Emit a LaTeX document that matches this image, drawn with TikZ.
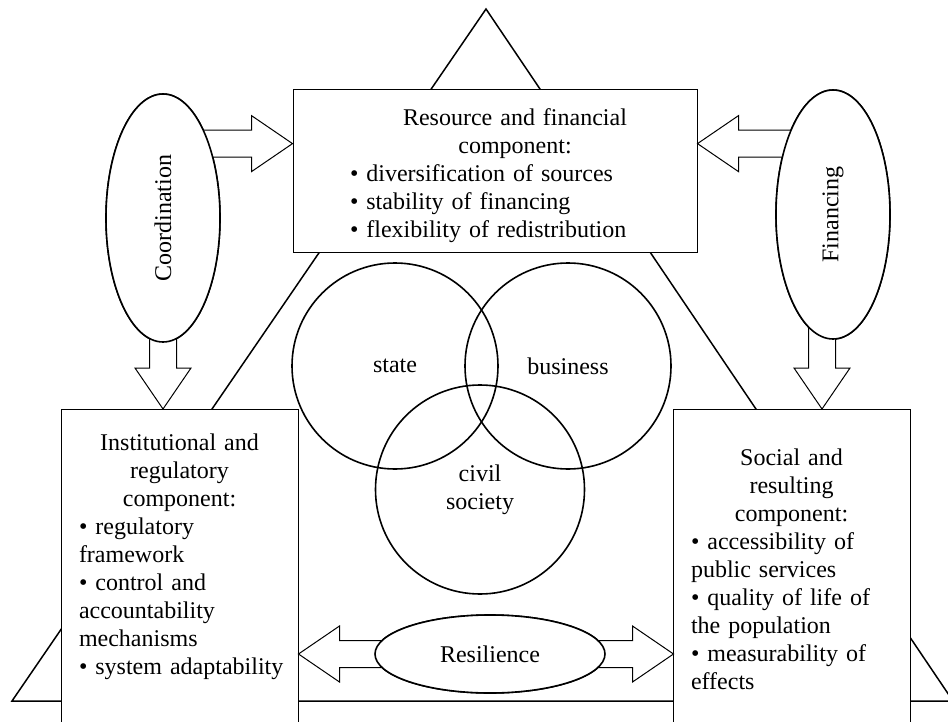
\documentclass[tikz,border=0pt]{standalone}
\usepackage{fontspec}
\setmainfont{Liberation Serif}
\usetikzlibrary{positioning,calc,shapes.geometric}
\setlength{\parindent}{0pt}
\hyphenpenalty=10000
\exhyphenpenalty=10000

% broad outlined arrow from #1 to tip #2
\newcommand{\widearrow}[2]{%
  \coordinate (wa-t) at (#2);
  \coordinate (wa-h) at ($(#2)!41pt!(#1)$);
  \draw[wide arrow] ($(#1)!13.5pt!90:(#2)$) -- ($(wa-h)!13.5pt!90:(wa-t)$)
    -- ($(wa-h)!28pt!90:(wa-t)$) -- (wa-t) -- ($(wa-h)!28pt!-90:(wa-t)$)
    -- ($(wa-h)!13.5pt!-90:(wa-t)$) -- ($(#1)!13.5pt!-90:(#2)$) -- cycle;
}

\begin{document}
\begin{tikzpicture}[x=1pt,y=-1pt,
  font=\fontsize{24}{28}\selectfont,
  box node/.style={rectangle,draw,line width=1pt,fill=white,inner sep=0pt},
  text node/.style={inner sep=0pt,align=left},
  oval node/.style={ellipse,draw,line width=1.6pt,fill=white,inner sep=0pt},
  set node/.style={circle,draw,line width=1.6pt,inner sep=0pt,minimum size=206pt,align=center},
  tri/.style={line width=1.5pt,line join=miter},
  wide arrow/.style={draw,line width=1pt,fill=white,line join=miter}]
  \useasboundingbox (0,0) rectangle (948,722);
  \clip (0,0) rectangle (948,722);

  % triangle behind everything
  \coordinate (apex) at (486,9);
  \coordinate (baseL) at (12,701);
  \coordinate (baseR) at (953,701);
  \draw[tri] (apex) -- (baseL) -- (baseR) -- cycle;

  % component boxes
  \node[box node,minimum width=404pt,minimum height=163pt] (Res) at (495,171.5) {};
  \node[box node,minimum width=237pt,minimum height=360pt,anchor=north] (Inst) at (179.5,409) {};
  \node[box node,minimum width=237pt,minimum height=360pt,anchor=north] (Soc) at (791.5,409) {};

  \node[text node,text width=330pt,anchor=north] (ResText) at (515,108)
    {{\centering Resource and financial\\ component:\par}
     \textbullet~diversification~of~sources\\
     \textbullet~stability~of~financing\\
     \textbullet~flexibility~of~redistribution};
  \node[text node,text width=201pt,below=25pt of Inst.north] (InstText)
    {{\centering Institutional and\\ regulatory\\ component:\par}
     \textbullet~regulatory\\
     framework\\
     \textbullet~control~and\\
     accountability\\
     mechanisms\\
     \mbox{\textbullet~system~adaptability}};
  \node[text node,text width=201pt,below=40pt of Soc.north] (SocText)
    {{\centering Social and\\ resulting\\ component:\par}
     \textbullet~accessibility~of\\
     public~services\\
     \textbullet~quality~of~life~of\\
     the~population\\
     \textbullet~measurability~of\\
     effects};

  % actors
  \node[set node] (St) at (395,366) {state};
  \node[set node] (Bus) at (568,366) {business};
  \node[set node,minimum size=209pt] (Civ) at (480,489.5) {civil\\society};

  % ovals (placed first so the arrows can refer to them)
  \path node[oval node,rotate=90,minimum width=248pt,minimum height=114pt] (Coord) at (163,218) {}
        node[oval node,rotate=90,minimum width=249pt,minimum height=114pt] (Fin) at (833,214.5) {}
        node[oval node,minimum width=230pt,minimum height=78pt] (Resil) at (490,654) {};

  % broad arrows
  \coordinate (cr-t) at ($(Res.north west)!0.33!(Res.south west)$);
  \coordinate (cr-s) at (Coord.center |- cr-t);
  \coordinate (fr-t) at ($(Res.north east)!0.33!(Res.south east)$);
  \coordinate (fr-s) at (Fin.center |- fr-t);
  \coordinate (ci-t) at (Inst.north -| Coord.center);
  \coordinate (fs-t) at ([xshift=-11pt]Fin.center |- Soc.north);
  \coordinate (fs-s) at (Fin.center -| fs-t);
  \coordinate (ri-t) at (Inst.east |- Resil.center);
  \coordinate (rs-t) at ([xshift=1pt]Soc.west |- Resil.center);
  \widearrow{cr-s}{cr-t}
  \widearrow{fr-s}{fr-t}
  \widearrow{Coord.center}{ci-t}
  \widearrow{fs-s}{fs-t}
  \widearrow{Resil.center}{ri-t}
  \widearrow{Resil.center}{rs-t}

  % ovals on top of the arrow shafts
  \node[oval node,rotate=90,minimum width=248pt,minimum height=114pt] at (Coord) {Coordination};
  \node[oval node,rotate=90,minimum width=249pt,minimum height=114pt] at (Fin) {Financing};
  \node[oval node,minimum width=230pt,minimum height=78pt] at (Resil) {Resilience};
\end{tikzpicture}
\end{document}
